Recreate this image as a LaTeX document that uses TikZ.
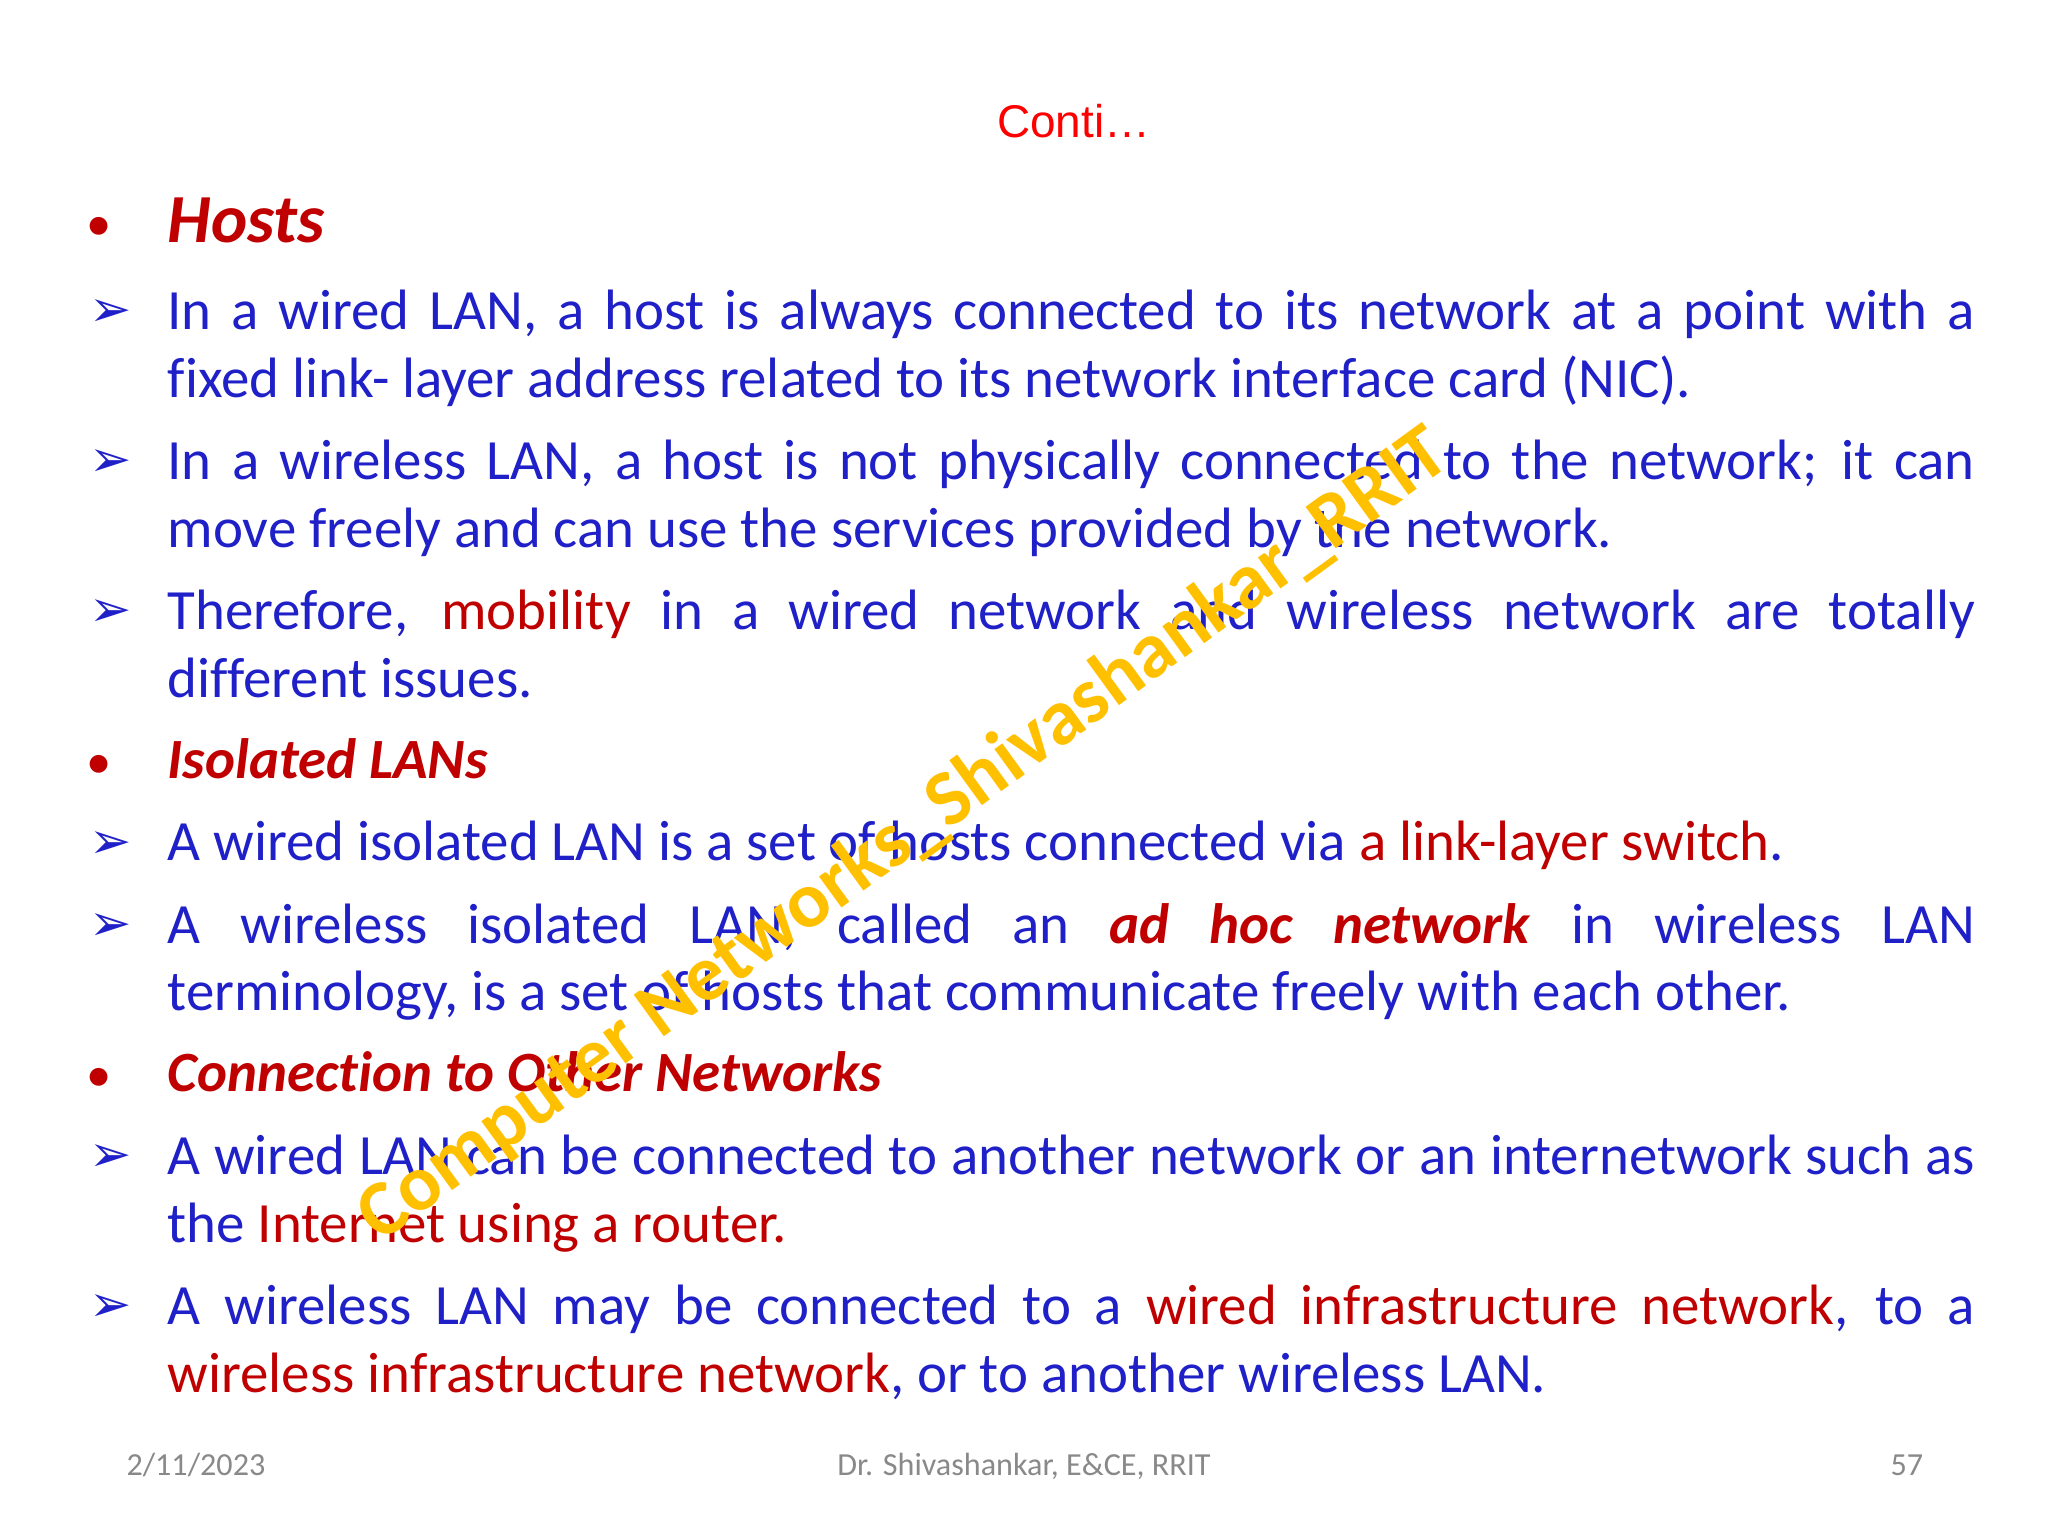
\documentclass[tikz,border=0pt]{standalone}
\usepackage{fontspec}
\setmainfont{Carlito}[Ligatures=NoCommon]
\newfontfamily\arialf{Liberation Sans}
\newfontfamily\djv{DejaVu Sans}
\definecolor{tblue}{RGB}{32,32,200}
\definecolor{tred}{RGB}{192,0,0}
\definecolor{wmk}{RGB}{255,192,0}
\definecolor{foot}{RGB}{137,137,137}
\hyphenpenalty=10000
\exhyphenpenalty=10000
\tikzset{
 para/.style={anchor=base west,inner sep=0pt,text width=27.68cm,align=justify,text=tblue,font=\fontsize{24.8}{29.6}\selectfont},
 arr/.style={anchor=base,inner sep=0pt,text=tblue,font=\djv\fontsize{22}{26}\selectfont},
 dot/.style={anchor=base,inner sep=0pt,text=tred,font=\fontsize{22}{26}\selectfont},
 head/.style={anchor=base west,inner sep=0pt,text=tred,font=\bfseries\itshape\fontsize{24.8}{28}\selectfont},
 ft/.style={anchor=base,inner sep=0pt,text=foot,font=\fontsize{14}{16}\selectfont}
}
\newcommand{\rd}[1]{\textcolor{tred}{#1}}
\begin{document}
\begin{tikzpicture}[x=0.02cm,y=-0.02cm]
\useasboundingbox (0,0) rectangle (1568,1176);
\fill[white] (0,0) rectangle (1568,1176);
\node[anchor=base,inner sep=0pt,text=red,font=\arialf\fontsize{20}{24}\selectfont] (title) at (822,105) {Conti…};
% Hosts
\node[dot] (b1) at (76,184) {•};
\node[head,font=\bfseries\itshape\fontsize{30}{34}\selectfont] (h1) at (128,186) {Hosts};
\node[arr] (a1) at (85,250) {➢};
\node[para] (p1) at (128,252) {In a wired LAN, a host is always connected to its network at a point with a\linebreak fixed link- layer address related to its network interface card (NIC).};
\node[arr] (a2) at (85,365) {➢};
\node[para] (p2) at (128,367) {In a wireless LAN, a host is not physically connected to the network; it can\linebreak move freely and can use the services provided by the network.};
\node[arr] (a3) at (85,480) {➢};
\node[para] (p3) at (128,482) {Therefore, \rd{mobility} in a wired network and wireless network are totally\linebreak different issues.};
% Isolated
\node[dot] (b2) at (76,596) {•};
\node[head] (h2) at (128,596) {Isolated LANs};
\node[arr] (a4) at (85,657) {➢};
\node[para] (p4) at (128,659) {A wired isolated LAN is a set of hosts connected via \rd{a link-layer switch}.};
\node[arr] (a5) at (85,720) {➢};
\node[para] (p5) at (128,722) {A wireless isolated LAN, called an \rd{\textbf{\textit{ad hoc network}}} in wireless LAN\linebreak terminology, is a set of hosts that communicate freely with each other.};
% Connection
\node[dot] (b3) at (76,836) {•};
\node[head] (h3) at (128,836) {Connection to Other Networks};
\node[arr] (a6) at (85,897) {➢};
\node[para] (p6) at (128,899) {A wired LAN can be connected to another network or an internetwork such as\linebreak the \rd{Internet using a router.}};
\node[arr] (a7) at (85,1012) {➢};
\node[para] (p7) at (128,1014) {A wireless LAN may be connected to a \rd{wired infrastructure network}, to a\linebreak \rd{wireless infrastructure network}, or to another wireless LAN.};
% footer
\node[ft] (f1) at (150,1130) {2/11/2023};
\node[ft] (f2) at (784,1130) {Dr. Shivashankar, E\&CE, RRIT};
\node[ft] (f3) at (1460,1130) {57};
% watermark
\node[rotate=36,inner sep=0pt,text=wmk,font=\bfseries\fontsize{34.5}{38}\selectfont] (wm) at (692,640) {Computer Networks\_Shivashankar\_RRIT};
\end{tikzpicture}
\end{document}
